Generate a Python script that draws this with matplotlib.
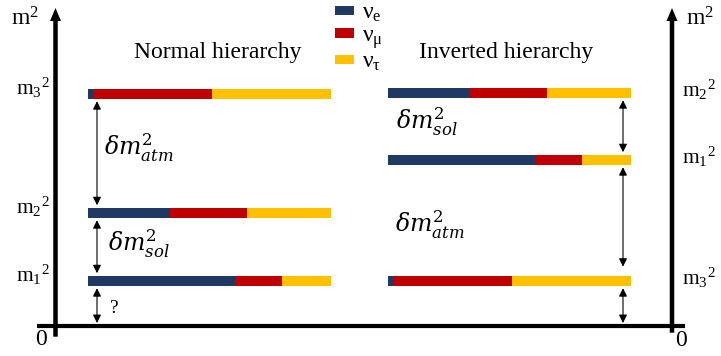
import matplotlib
matplotlib.use("Agg")
import matplotlib.pyplot as plt
from matplotlib.patches import Patch

plt.rcParams['font.family'] = 'Liberation Serif'
plt.rcParams['mathtext.fontset'] = 'custom'
plt.rcParams['mathtext.rm'] = 'Liberation Serif'
plt.rcParams['mathtext.it'] = 'Liberation Serif:italic'

# flavour legend
flavours = ['ν$_\\mathrm{e}$', 'ν$_\\mathrm{μ}$', 'ν$_\\mathrm{τ}$']
colors = ['#203864', '#C00000', '#FFC000']

# flavour content (e, mu, tau) of each mass state
m1_content = [0.605, 0.195, 0.20]
m2_content = [0.335, 0.318, 0.347]
m3_content = [0.02, 0.49, 0.49]
states = ['m$_1{}^2$', 'm$_2{}^2$', 'm$_3{}^2$']

# m^2 of the levels, arbitrary units (0 = horizontal axis), order m1, m2, m3
nh_levels = [45, 113, 232]
ih_levels = [166, 233, 45]

# layout (one unit = one pixel)
W, H = 721, 356
y0 = 325.7
bar_len = 243
bar_h = 10
nh_x, ih_x = 88, 388

fig = plt.figure(figsize=(W / 100, H / 100), dpi=100)
ax = fig.add_axes([0, 0, 1, 1])
ax.set_xlim(0, W)
ax.set_ylim(y0 - H, y0)
ax.axis('off')

# stacked flavour bars
for levels, x0 in [(nh_levels, nh_x), (ih_levels, ih_x)]:
    for lvl, content in zip(levels, [m1_content, m2_content, m3_content]):
        left = x0
        for frac, c in zip(content, colors):
            ax.barh(lvl, frac * bar_len, left=left, height=bar_h, color=c, lw=0)
            left += frac * bar_len

# m^2 axes
ax.plot([37, 685], [0, 0], color='black', lw=3, solid_capstyle='butt')
for x, ybot in [(55.5, -11), (672, -7)]:
    ax.arrow(x, ybot, 0, 317.7 - ybot, width=4.5, head_width=11, head_length=13,
             length_includes_head=True, color='black', lw=0)

# gap arrows
def gap(x, ya, yb):
    ax.annotate('', xy=(x, ya), xytext=(x, yb),
                arrowprops=dict(arrowstyle='<|-|>', lw=0.8, color='black',
                                mutation_scale=12, shrinkA=0, shrinkB=0))

half = bar_h / 2 + 2.5
gap(97, nh_levels[2] - half, nh_levels[1] + half)
gap(97, nh_levels[1] - half, nh_levels[0] + half)
gap(97, nh_levels[0] - half, 2.7)
gap(623, ih_levels[1] - half, ih_levels[0] + half)
gap(623, ih_levels[0] - half, ih_levels[2] + 14)
gap(623, ih_levels[2] - half, 2.7)

# splitting labels
dm_kw = dict(fontsize=17, math_fontfamily='dejavuserif', va='baseline', ha='left')
ax.text(104, 170.7, r'$\delta m^2_{atm}$', **dm_kw)
ax.text(108, 74, r'$\delta m^2_{sol}$', **dm_kw)
ax.text(396, 195.7, r'$\delta m^2_{sol}$', **dm_kw)
ax.text(395, 93, r'$\delta m^2_{atm}$', **dm_kw)
ax.text(110, 12.7, '?', fontsize=14, va='baseline', ha='left')

# titles
ax.text(218, 267.4, 'Normal hierarchy', fontsize=17, ha='center', va='baseline')
ax.text(506, 267.4, 'Inverted hierarchy', fontsize=17, ha='center', va='baseline')

# level labels
for lvl, s in zip(nh_levels, states):
    ax.text(50, lvl - 1, s, fontsize=15.5, ha='right', va='baseline')
for lvl, s in zip(ih_levels, states):
    ax.text(682, lvl - 4, s, fontsize=15.5, ha='left', va='baseline')

# axis labels
ax.text(39, 300.7, 'm$^2$', fontsize=17, ha='right', va='baseline')
ax.text(686, 300.7, 'm$^2$', fontsize=17, ha='left', va='baseline')
ax.text(41.5, -3, '0', fontsize=17, ha='center', va='top')
ax.text(681.5, -4, '0', fontsize=17, ha='center', va='top')

# legend
handles = [Patch(color=c, lw=0) for c in colors]
ax.legend(handles, flavours, loc='upper left', bbox_to_anchor=(335, y0 - 3),
          bbox_transform=ax.transData, frameon=False, fontsize=17,
          handlelength=0.8, handleheight=0.22, handletextpad=0.35,
          labelspacing=0.05, borderpad=0, borderaxespad=0)

fig.savefig('out.png', dpi=100)
